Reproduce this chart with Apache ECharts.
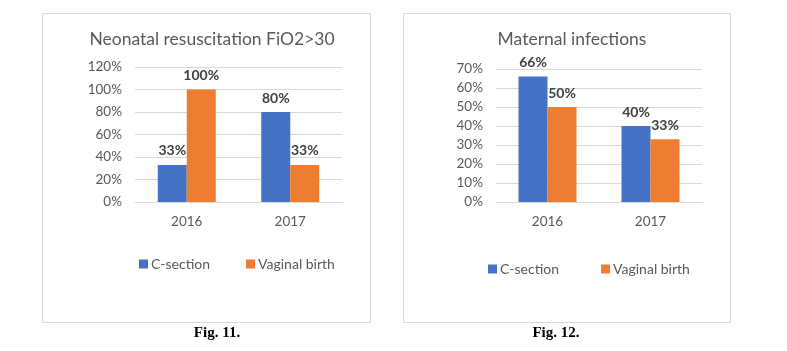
<!DOCTYPE html>
<html>
<head>
<meta charset="utf-8">
<script src="https://cdn.jsdelivr.net/npm/echarts@6/dist/echarts.min.js"></script>
<style>
  html, body { margin: 0; padding: 0; background: #fff; }
  #chart { width: 787px; height: 351px; }
</style>
</head>
<body>
<div id="chart"></div>
<script>
// 数据
const years = ['2016', '2017']
const seriesNames = ['C-section', 'Vaginal birth']
const fio2CSection = [33, 80]
const fio2Vaginal = [100, 33]
const infectCSection = [66, 40]
const infectVaginal = [50, 33]

const BLUE = '#4472C4'
const ORANGE = '#ED7D31'
const FONT = 'Lato'

const chart = echarts.init(document.getElementById('chart'))

// 柱子公共配置
function bar(name, data, color, idx) {
  return {
    name: name,
    type: 'bar',
    xAxisIndex: idx,
    yAxisIndex: idx,
    data: data,
    barWidth: 29,
    barGap: '0%',
    itemStyle: { color: color },
    label: {
      show: true,
      position: 'top',
      distance: 7,
      formatter: '{c}%',
      fontFamily: FONT,
      fontSize: 14,
      fontWeight: 'bold',
      color: '#404040'
    }
  }
}

const xAxisBase = {
  type: 'category',
  data: years,
  axisLine: { lineStyle: { color: '#D9D9D9' } },
  axisTick: { show: false },
  axisLabel: { color: '#595959', fontFamily: FONT, fontSize: 13.5, margin: 13 }
}

const yAxisBase = {
  type: 'value',
  min: 0,
  axisLine: { show: false },
  axisTick: { show: false },
  splitLine: { lineStyle: { color: '#D9D9D9' } },
  axisLabel: { color: '#595959', fontFamily: FONT, fontSize: 13.5, margin: 13, formatter: '{value}%' }
}

const legendBase = {
  data: seriesNames,
  itemWidth: 9,
  itemHeight: 9,
  icon: 'rect',
  selectedMode: false,
  textStyle: { color: '#595959', fontFamily: FONT, fontSize: 14, padding: [0, 0, 0, -2] }
}

const option = {
  animation: false,
  title: [
    {
      text: 'Neonatal resuscitation FiO2>30',
      left: 207, top: 25, textAlign: 'center',
      textStyle: { color: '#595959', fontFamily: FONT, fontSize: 17.5, fontWeight: 'normal' }
    },
    {
      text: 'Maternal infections',
      left: 567, top: 25, textAlign: 'center',
      textStyle: { color: '#595959', fontFamily: FONT, fontSize: 17.5, fontWeight: 'normal' }
    }
  ],
  legend: [
    Object.assign({}, legendBase, { left: 134, top: 252, itemGap: 36 }),
    Object.assign({}, legendBase, { left: 483, top: 257, itemGap: 42 })
  ],
  grid: [
    { left: 135, top: 67, width: 207, height: 135 },
    { left: 496, top: 69, width: 206, height: 133 }
  ],
  xAxis: [
    Object.assign({}, xAxisBase, { gridIndex: 0 }),
    Object.assign({}, xAxisBase, { gridIndex: 1 })
  ],
  yAxis: [
    Object.assign({}, yAxisBase, { gridIndex: 0, max: 120, interval: 20 }),
    Object.assign({}, yAxisBase, { gridIndex: 1, max: 70, interval: 10 })
  ],
  series: [
    bar(seriesNames[0], fio2CSection, BLUE, 0),
    bar(seriesNames[1], fio2Vaginal, ORANGE, 0),
    bar(seriesNames[0], infectCSection, BLUE, 1),
    bar(seriesNames[1], infectVaginal, ORANGE, 1)
  ],
  // 边框与图注
  graphic: [
    { type: 'rect', shape: { x: 42.5, y: 13.5, width: 328, height: 309 }, style: { fill: 'none', stroke: '#D9D9D9', lineWidth: 1 } },
    { type: 'rect', shape: { x: 403.5, y: 13.5, width: 327, height: 309 }, style: { fill: 'none', stroke: '#D9D9D9', lineWidth: 1 } },
    { type: 'text', x: 217, y: 333, style: { text: 'Fig. 11.', textAlign: 'center', textVerticalAlign: 'middle', font: 'bold 15px "Liberation Serif"', fill: '#000' } },
    { type: 'text', x: 556, y: 333, style: { text: 'Fig. 12.', textAlign: 'center', textVerticalAlign: 'middle', font: 'bold 15px "Liberation Serif"', fill: '#000' } }
  ]
}

chart.setOption(option)
</script>
</body>
</html>
